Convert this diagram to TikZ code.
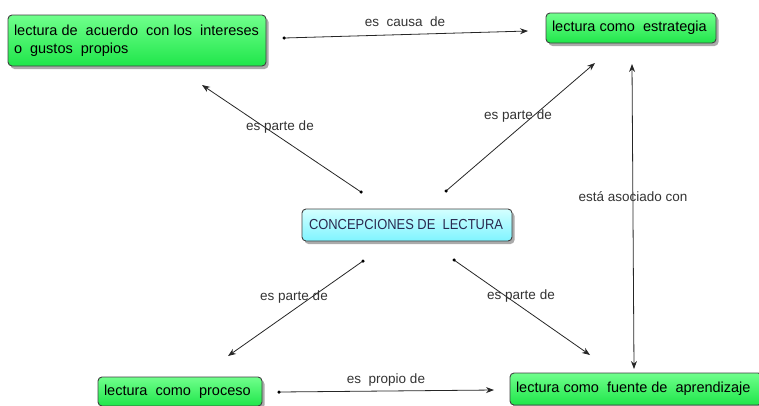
\documentclass[tikz,border=0pt]{standalone}
\usepackage{fontspec}
\usepackage{graphicx}
\setmainfont{Liberation Sans}
\usetikzlibrary{shadows,arrows.meta}
\definecolor{gtop}{HTML}{70FF8C}
\definecolor{gbot}{HTML}{1FE64A}
\definecolor{ctop}{HTML}{D4FFFF}
\definecolor{cbot}{HTML}{7FF4FF}
\definecolor{ctext}{HTML}{2A2A50}
\definecolor{lbl}{HTML}{333333}
\newcommand{\lbox}[2]{\makebox[#1][l]{#2}}
\newcommand{\sqz}[2]{\resizebox{#1}{\height}{#2}}
\begin{document}
\begin{tikzpicture}[x=1pt,y=-1pt,
  box/.style={draw=black!75, line width=0.9pt, rounded corners=4pt,
    top color=gtop, bottom color=gbot,
    drop shadow={shadow xshift=2.5pt, shadow yshift=-3pt, fill=black!55, opacity=0.6},
    font=\fontsize{14.5}{18}\selectfont, inner xsep=6pt, inner ysep=2pt, align=left, anchor=center},
  cbox/.style={box, top color=ctop, bottom color=cbot, text=ctext},
  conn/.style={draw=black!85, line width=0.8pt, -{Stealth[length=8pt,width=6pt]}},
  dot/.style={circle, fill=black, inner sep=0pt, minimum size=3.5pt},
  lab/.style={font=\fontsize{13.5}{16}\selectfont, text=lbl, inner sep=1pt}
]
\useasboundingbox (0,0) rectangle (759,405);

\node[box, minimum width=258pt, minimum height=51pt] (A) at (137,40.5)
  {\lbox{246pt}{\sqz{245pt}{lectura de\ \ acuerdo\ \ con los\ \ intereses}}\\\lbox{246pt}{o\ \ gustos\ \ propios}};
\node[box, minimum width=170pt, minimum height=30pt] (B) at (631,28) {\lbox{158pt}{lectura como\ \ estrategia}};
\node[cbox, minimum width=210pt, minimum height=32pt, inner xsep=7pt] (C) at (407,225) {\lbox{196pt}{\sqz{194pt}{CONCEPCIONES DE\ \ LECTURA}}};
\node[box, minimum width=164pt, minimum height=29pt] (D) at (180,391.5) {\lbox{152pt}{lectura\ \ como\ \ proceso}};
\node[box, minimum width=252pt, minimum height=32pt] (E) at (636,389) {\lbox{240pt}{lectura como\ \ fuente de\ \ aprendizaje}};

% connector ends
\coordinate (s1) at (284,38);   \coordinate (t1) at (528,31);
\coordinate (s2) at (361,192);  \coordinate (t2) at (202,85);
\coordinate (s3) at (446,191);  \coordinate (t3) at (595,63);
\coordinate (s4) at (632,64);   \coordinate (t4) at (634,369);
\coordinate (s5) at (363,261);  \coordinate (t5) at (228,356);
\coordinate (s6) at (454,260);  \coordinate (t6) at (590,355);
\coordinate (s7) at (279,392);  \coordinate (t7) at (494,390);

\draw[conn] (s1) -- (t1);
\draw[conn] (s2) -- (t2);
\draw[conn] (s3) -- (t3);
\draw[conn, {Stealth[length=8pt,width=6pt]}-{Stealth[length=8pt,width=6pt]}] (s4) -- (t4);
\draw[conn] (s5) -- (t5);
\draw[conn] (s6) -- (t6);
\draw[conn] (s7) -- (t7);

\foreach \p in {s1,s2,s3,s5,s6,s7} \node[dot] at (\p) {};

\node[lab] (l1) at (405,22) {es\ \ causa\ \ de};
\node[lab] (l2) at (280,127) {es parte de};
\node[lab] (l3) at (518,116) {es parte de};
\node[lab] (l4) at (633,197) {está asociado con};
\node[lab] (l5) at (294,297) {es parte de};
\node[lab] (l6) at (521,296) {es parte de};
\node[lab] (l7) at (386,380) {es\ \ propio de};
\end{tikzpicture}
\end{document}
